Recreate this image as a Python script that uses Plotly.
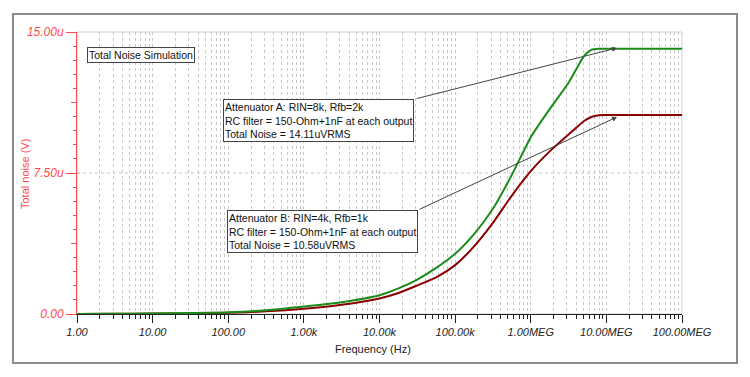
import plotly.graph_objects as go

# ---- data ----
freq_hz = [1, 3.16, 10, 31.6, 100, 316, 1e3, 3.16e3, 1e4, 1.78e4, 3.16e4, 5.62e4,
           1e5, 1.78e5, 3.16e5, 5.62e5, 1e6, 1.78e6, 3.16e6, 3.98e6, 5.01e6,
           6.31e6, 7.94e6, 1e7, 3.16e7, 1e8]
noise_a_uv = [0.0, 0.01, 0.02, 0.05, 0.09, 0.20, 0.40, 0.63, 1.00, 1.36, 1.83, 2.45,
              3.20, 4.25, 5.60, 7.40, 9.40, 10.90, 12.30, 13.00, 13.70,
              14.05, 14.11, 14.11, 14.11, 14.11]
noise_b_uv = [0.0, 0.01, 0.02, 0.03, 0.06, 0.14, 0.28, 0.49, 0.83, 1.12, 1.52, 1.95,
              2.60, 3.60, 4.85, 6.30, 7.60, 8.65, 9.55, 9.90, 10.25,
              10.48, 10.57, 10.58, 10.58, 10.58]
x_tickvals = [1, 10, 100, 1e3, 1e4, 1e5, 1e6, 1e7, 1e8]
x_ticktext = ["1.00", "10.00", "100.00", "1.00k", "10.00k", "100.00k",
              "1.00MEG", "10.00MEG", "100.00MEG"]
y_tickvals = [0, 7.5, 15]
y_ticktext = ["0.00", "7.50u", "15.00u"]

FONT = "Arial, Liberation Sans, sans-serif"
RED = "#ff4d4d"

fig = go.Figure()
fig.add_trace(go.Scatter(x=freq_hz, y=noise_b_uv, mode="lines",
                         line=dict(color="#8b0000", width=2, shape="spline", smoothing=0.6),
                         showlegend=False))
fig.add_trace(go.Scatter(x=freq_hz, y=noise_a_uv, mode="lines",
                         line=dict(color="#1a8c1a", width=2, shape="spline", smoothing=0.6),
                         showlegend=False))

L, R, T, B = 77, 68, 32, 63
PW, PH = 750 - L - R, 377 - T - B

def px(xp):
    return (xp - L) / PW

def py(yp):
    return (T + PH - yp) / PH

fig.update_layout(
    width=750, height=377,
    margin=dict(l=L, r=R, t=T, b=B),
    paper_bgcolor="white", plot_bgcolor="white",
    font=dict(family=FONT, size=11, color="#222"),
    xaxis=dict(type="log", range=[0, 8], tickvals=x_tickvals, ticktext=x_ticktext,
               showline=True, linecolor="#222", linewidth=1,
               ticks="outside", ticklen=8, tickcolor="#222",
               tickfont=dict(family=FONT, size=11, color="#222", style="italic"),
               showgrid=True, gridcolor="#c8c8c8", griddash="dot", gridwidth=1,
               minor=dict(dtick="D1", ticks="outside", ticklen=4, tickcolor="#222",
                          showgrid=True, gridcolor="#c8c8c8", griddash="dot", gridwidth=1),
               zeroline=False),
    yaxis=dict(range=[0, 15], tickvals=y_tickvals, ticktext=y_ticktext,
               showline=True, linecolor=RED, linewidth=1,
               ticks="outside", ticklen=10, tickcolor=RED,
               tickfont=dict(family=FONT, size=12, color=RED, style="italic"),
               showgrid=False, zeroline=False,
               minor=dict(dtick=0.75, ticks="outside", ticklen=3, tickcolor=RED, showgrid=False)),
)

shapes = [
    dict(type="rect", xref="paper", yref="paper", x0=0, x1=1, y0=0, y1=1,
         line=dict(color="#d0d0d0", width=1), layer="below"),
    dict(type="line", xref="paper", yref="y", x0=0, x1=1, y0=7.5, y1=7.5,
         line=dict(color="#c8c8c8", width=1, dash="dot"), layer="below"),
    dict(type="rect", xref="paper", yref="paper",
         x0=px(13), x1=px(737), y0=py(363), y1=py(14),
         line=dict(color="#8a8a8a", width=2)),
]
for yv in (3.75, 11.25):
    shapes.append(dict(type="line", xref="paper", yref="y", x0=px(71), x1=0,
                       y0=yv, y1=yv, line=dict(color=RED, width=1)))
fig.update_layout(shapes=shapes)

box = dict(bgcolor="white", bordercolor="#444", borderwidth=1, borderpad=1,
           align="left", xanchor="left", yanchor="top", showarrow=False,
           xref="paper", yref="paper", font=dict(family=FONT, size=10.5, color="#111"))
anns = [
    dict(text="Total Noise Simulation", x=px(87), y=py(47), **box),
    dict(text="Attenuator A: RIN=8k, Rfb=2k<br>RC filter = 150-Ohm+1nF at each output<br>Total Noise = 14.11uVRMS",
         x=px(223), y=py(99), **box),
    dict(text="Attenuator B: RIN=4k, Rfb=1k<br>RC filter = 150-Ohm+1nF at each output<br>Total Noise = 10.58uVRMS",
         x=px(227), y=py(210), **box),
    dict(text="", x=px(617), y=py(48), xref="paper", yref="paper", showarrow=True,
         ax=415 - 617, ay=99 - 48, arrowhead=2, arrowsize=1, arrowwidth=1, arrowcolor="#444"),
    dict(text="", x=px(617), y=py(117), xref="paper", yref="paper", showarrow=True,
         ax=418 - 617, ay=210 - 117, arrowhead=2, arrowsize=1, arrowwidth=1, arrowcolor="#444"),
    dict(text="Frequency (Hz)", x=px(373), y=py(349), xref="paper", yref="paper",
         xanchor="center", yanchor="middle",
         showarrow=False, font=dict(family=FONT, size=11, color="#222")),
    dict(text="Total noise (V)", x=px(25), y=py(174), xref="paper", yref="paper",
         xanchor="center", yanchor="middle",
         showarrow=False, textangle=-90, font=dict(family=FONT, size=11, color=RED)),
]
fig.update_layout(annotations=anns)

fig.write_html("out.html", config={"displayModeBar": False},
               post_script="document.body.style.margin='0';")
